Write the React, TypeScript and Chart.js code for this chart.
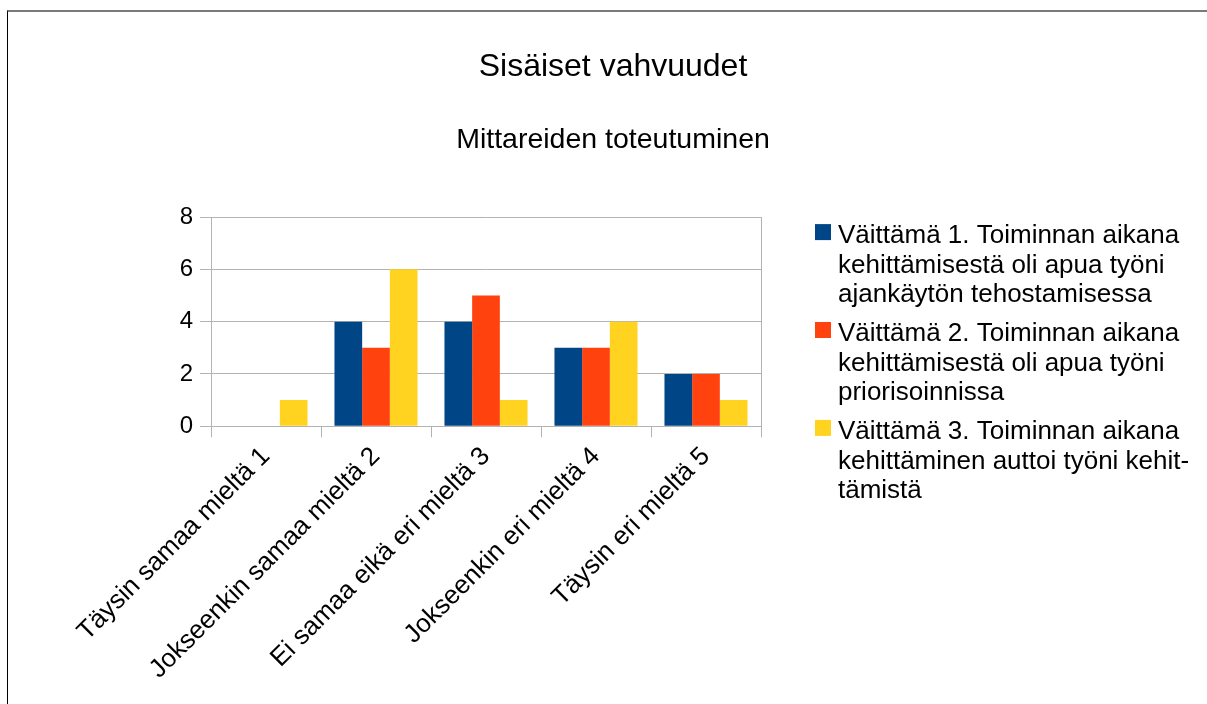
import React, { useEffect, useRef } from "react";
import { Chart, registerables } from "chart.js";

Chart.register(...registerables);

const categories = [
  "Täysin samaa mieltä 1",
  "Jokseenkin samaa mieltä 2",
  "Ei samaa eikä eri mieltä 3",
  "Jokseenkin eri mieltä 4",
  "Täysin eri mieltä 5",
];

const series1 = [0, 4, 4, 3, 2];
const series2 = [0, 3, 5, 3, 2];
const series3 = [1, 6, 1, 4, 1];

const seriesName1 = ["Väittämä 1. Toiminnan aikana", "kehittämisestä oli apua työni", "ajankäytön tehostamisessa"];
const seriesName2 = ["Väittämä 2. Toiminnan aikana", "kehittämisestä oli apua työni", "priorisoinnissa"];
const seriesName3 = ["Väittämä 3. Toiminnan aikana", "kehittäminen auttoi työni kehit-", "tämistä"];

const seriesColors = ["#004586", "#ff420e", "#ffd320"];

const titleText = "Sisäiset vahvuudet";
const subtitleText = "Mittareiden toteutuminen";

const yMin = 0;
const yMax = 8;
const yStep = 2;

const FONT = "'Liberation Sans', Arial, sans-serif";

// legend style (drawn beside the chart area, in the space reserved by the right axis)
const legendStyle = {
  gap: 54,
  box: 16,
  textOffset: 23,
  topOffset: 7,
  firstBaseline: 26.3,
  lineHeight: 29.3,
  itemGap: 10,
  fontSize: 26,
};

const sideLegend = {
  id: "sideLegend",
  afterDraw(chart: any) {
    const ctx = chart.ctx as CanvasRenderingContext2D;
    const area = chart.chartArea;
    const names = chart.data.datasets.map((d: any) => d.legendLines as string[]);
    ctx.save();
    ctx.font = `${legendStyle.fontSize}px ${FONT}`;
    ctx.textBaseline = "alphabetic";
    ctx.textAlign = "left";
    let top = area.top + legendStyle.topOffset;
    const boxX = area.right + legendStyle.gap;
    chart.data.datasets.forEach((ds: any, i: number) => {
      const lines = names[i];
      ctx.fillStyle = ds.backgroundColor;
      ctx.fillRect(boxX, top, legendStyle.box, legendStyle.box);
      ctx.fillStyle = "#000";
      lines.forEach((ln: string, j: number) => {
        ctx.fillText(
          ln,
          boxX + legendStyle.textOffset,
          top - legendStyle.topOffset + legendStyle.firstBaseline + j * legendStyle.lineHeight
        );
      });
      top += lines.length * legendStyle.lineHeight + legendStyle.itemGap;
    });
    ctx.restore();
  },
};

export default function App() {
  const ref = useRef<HTMLCanvasElement>(null);

  useEffect(() => {
    if (!ref.current) return;
    Chart.defaults.font.family = FONT;
    Chart.defaults.color = "#000";
    const chart = new Chart(ref.current, {
      type: "bar",
      data: {
        labels: categories,
        datasets: [
          { label: seriesName1.join(" "), legendLines: seriesName1, data: series1, backgroundColor: seriesColors[0], borderWidth: 0 } as any,
          { label: seriesName2.join(" "), legendLines: seriesName2, data: series2, backgroundColor: seriesColors[1], borderWidth: 0 } as any,
          { label: seriesName3.join(" "), legendLines: seriesName3, data: series3, backgroundColor: seriesColors[2], borderWidth: 0 } as any,
        ],
      },
      plugins: [sideLegend],
      options: {
        animation: false,
        responsive: false,
        devicePixelRatio: 1,
        datasets: { bar: { categoryPercentage: 0.755, barPercentage: 1.0 } },
        layout: { padding: { left: 37, right: 18, top: 0, bottom: 15 } },
        plugins: {
          title: {
            display: true,
            text: titleText,
            color: "#000",
            font: { size: 32, weight: "normal" },
            padding: { top: 48, bottom: 10 },
          },
          subtitle: {
            display: true,
            text: subtitleText,
            color: "#000",
            font: { size: 28.5, weight: "normal" },
            padding: { top: 27, bottom: 59.5 },
          },
          legend: { display: false },
          tooltip: { enabled: false },
        },
        scales: {
          x: {
            grid: {
              offset: true,
              drawOnChartArea: false,
              drawTicks: true,
              tickLength: 11,
              color: "#b3b3b3",
            },
            border: { display: true, color: "#b3b3b3" },
            ticks: {
              minRotation: 45,
              maxRotation: 45,
              autoSkip: false,
              padding: 4,
              color: "#000",
              font: { size: 26 },
            },
          },
          y: {
            min: yMin,
            max: yMax,
            ticks: { stepSize: yStep, padding: 7, color: "#000", font: { size: 24 } },
            grid: { color: "#b3b3b3", tickLength: 11, drawTicks: true },
            border: { display: true, color: "#b3b3b3" },
            afterFit: (s: any) => {
              s.width = 174;
            },
          },
          y2: {
            position: "right",
            display: true,
            ticks: { display: false },
            grid: { display: false, drawTicks: false },
            border: { display: true, color: "#b3b3b3" },
            afterFit: (s: any) => {
              s.width = 428;
            },
          },
        },
      },
    });
    return () => chart.destroy();
  }, []);

  return (
    <div style={{ position: "fixed", left: 0, top: 0, width: 1207, height: 704, background: "#fff" }}>
      <canvas ref={ref} width={1207} height={704} style={{ position: "absolute", left: 0, top: 0, width: 1207, height: 704 }} />
      <div
        style={{
          position: "absolute",
          left: 7,
          top: 10,
          right: 0,
          bottom: 0,
          borderTop: "2px solid #7a7a7a",
          borderLeft: "1px solid #000",
          pointerEvents: "none",
        }}
      />
    </div>
  );
}
